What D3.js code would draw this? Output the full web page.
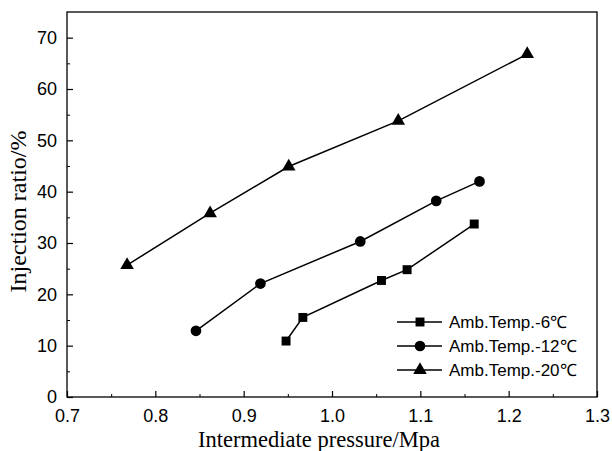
<!DOCTYPE html>
<html>
<head>
<meta charset="utf-8">
<script src="https://cdn.jsdelivr.net/npm/d3@7"></script>
<style>
  body { margin: 0; background: #fff; }
  svg { display: block; }
</style>
</head>
<body>
<div id="chart"></div>
<script>
// series data: [pressure MPa, injection ratio %]
const seriesNames = ["Amb.Temp.-6\u2103", "Amb.Temp.-12\u2103", "Amb.Temp.-20\u2103"];
const temp6 = [[0.948, 10.9], [0.967, 15.5], [1.056, 22.7], [1.085, 24.8], [1.161, 33.7]];
const temp12 = [[0.846, 12.9], [0.919, 22.1], [1.032, 30.3], [1.118, 38.2], [1.167, 42.0]];
const temp20 = [[0.768, 25.7], [0.862, 35.8], [0.951, 44.9], [1.075, 53.8], [1.221, 66.8]];
const xTicks = [0.7, 0.8, 0.9, 1.0, 1.1, 1.2, 1.3];
const yTicks = [0, 10, 20, 30, 40, 50, 60, 70];

const W = 612, H = 451;
const margin = { top: 12, right: 15, bottom: 54, left: 67 };
const width = W - margin.left - margin.right;
const height = H - margin.top - margin.bottom;

const x = d3.scaleLinear().domain([0.7, 1.3]).range([0, width]);
const y = d3.scaleLinear().domain([0, 75]).range([height, 0]);

const svg = d3.select("#chart").append("svg")
    .attr("width", W).attr("height", H)
    .append("g")
    .attr("transform", `translate(${margin.left},${margin.top})`);

// frame
svg.append("rect")
    .attr("width", width).attr("height", height)
    .attr("fill", "none").attr("stroke", "#000").attr("stroke-width", 1.3);

// minor ticks
svg.append("g").attr("transform", `translate(0,${height})`)
    .call(d3.axisBottom(x).tickValues(d3.range(0.75, 1.3, 0.1)).tickSize(-3).tickFormat(""))
    .call(g => g.select(".domain").remove());
svg.append("g")
    .call(d3.axisLeft(y).tickValues(d3.range(5, 75, 10)).tickSize(-3).tickFormat(""))
    .call(g => g.select(".domain").remove());

// major ticks + labels
const xAxis = svg.append("g").attr("transform", `translate(0,${height})`)
    .call(d3.axisBottom(x).tickValues(xTicks).tickSize(-6).tickPadding(12).tickFormat(d3.format(".1f")));
const yAxis = svg.append("g")
    .call(d3.axisLeft(y).tickValues(yTicks).tickSize(-6).tickPadding(10).tickFormat(d3.format("d")));
[xAxis, yAxis].forEach(a => {
    a.select(".domain").remove();
    a.selectAll("line").attr("stroke-width", 1.2);
    a.selectAll("text").attr("font-family", "Liberation Sans, Arial, sans-serif")
        .attr("font-size", "18px").attr("fill", "#000");
});

// axis titles
svg.append("text")
    .attr("x", width / 2 - 13).attr("y", height + 50)
    .attr("text-anchor", "middle")
    .attr("font-family", "Liberation Serif, Times New Roman, serif")
    .attr("font-size", "22.5px")
    .text("Intermediate pressure/Mpa");
svg.append("text")
    .attr("transform", `translate(-41,${height / 2 + 7}) rotate(-90)`)
    .attr("text-anchor", "middle")
    .attr("font-family", "Liberation Serif, Times New Roman, serif")
    .attr("font-size", "24px")
    .text("Injection ratio/%");

const line = d3.line().x(d => x(d[0])).y(d => y(d[1]));
const shapes = [d3.symbolSquare, d3.symbolCircle, d3.symbolTriangle];
const sizes = [80, 90, 80];
const all = [temp6, temp12, temp20];

all.forEach((data, i) => {
    svg.append("path").datum(data)
        .attr("fill", "none").attr("stroke", "#000").attr("stroke-width", 1.5)
        .attr("d", line);
    svg.selectAll(null).data(data).enter().append("path")
        .attr("transform", d => `translate(${x(d[0])},${y(d[1])})`)
        .attr("d", d3.symbol().type(shapes[i]).size(sizes[i]))
        .attr("fill", "#000");
});

// legend
const legend = svg.append("g").attr("transform", "translate(330,310)");
seriesNames.forEach((name, i) => {
    const g = legend.append("g").attr("transform", `translate(0,${i * 24})`);
    g.append("line").attr("x1", 0).attr("x2", 45)
        .attr("stroke", "#000").attr("stroke-width", 1.5);
    g.append("path").attr("transform", "translate(23,0)")
        .attr("d", d3.symbol().type(shapes[i]).size(sizes[i]))
        .attr("fill", "#000");
    g.append("text").attr("x", 52).attr("y", 0).attr("dy", "0.35em")
        .attr("font-family", "Liberation Sans, Arial, sans-serif")
        .attr("font-size", "17px")
        .text(name);
});
</script>
</body>
</html>
